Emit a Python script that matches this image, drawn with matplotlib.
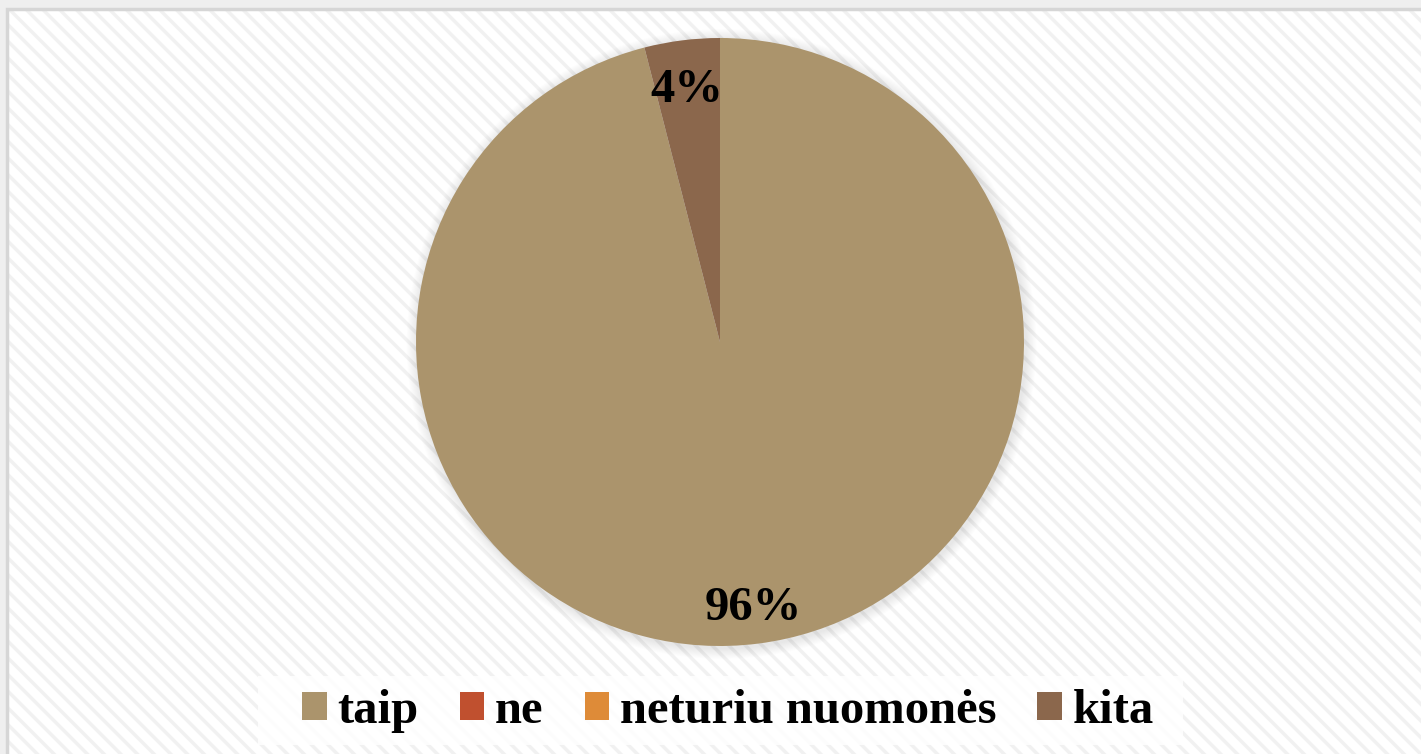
import matplotlib.pyplot as plt
import matplotlib.transforms as mtransforms
from matplotlib.patches import Rectangle, Circle

labels = ['taip', 'ne', 'neturiu nuomonės', 'kita']
values = [96, 0, 0, 4]
colors = ['#AB946C', '#C0502F', '#DE8B38', '#8B674C']

plt.rcParams['font.family'] = ['Liberation Serif', 'DejaVu Serif']
plt.rcParams['hatch.linewidth'] = 2.5

W, H = 1421, 754
fig = plt.figure(figsize=(W / 100, H / 100), dpi=100)
fig.patch.set_facecolor('#efefef')
ax = fig.add_axes([0, 0, 1, 1])
ax.set_xlim(0, W)
ax.set_ylim(0, H)
ax.set_aspect('equal')
ax.axis('off')

# striped background inside the frame
ax.add_patch(Rectangle((7, -10), W, H - 9 + 10, facecolor='white',
                       edgecolor='#f1f1f1', linewidth=0, hatch='\\\\', zorder=0))
ax.add_patch(Rectangle((7, -10), W, H - 9 + 10, facecolor='none',
                       edgecolor='#d6d6d6', linewidth=2.5, zorder=0.5))

cx, cy, r = 720, H - 342, 304

# soft shadow round the pie
for i in range(12):
    ax.add_patch(Circle((cx + 1.5, cy - 2), r + 1 + i * 0.9, facecolor='black',
                        edgecolor='none', alpha=0.009, zorder=1))

wedges, texts, autotexts = ax.pie(
    values, colors=colors, startangle=90, counterclock=False,
    center=(cx, cy), radius=r, pctdistance=0.86,
    autopct=lambda p: f'{p:.0f}%' if p > 0 else '',
    wedgeprops={'linewidth': 0, 'zorder': 2},
    textprops={'fontsize': 35, 'fontweight': 'bold', 'color': 'black'})
for t in autotexts:
    t.set_zorder(3)
    t.set_transform(mtransforms.offset_copy(t.get_transform(), fig=fig, x=0, y=-7, units='dots'))

ax.set_xlim(0, W)
ax.set_ylim(0, H)

# legend backdrop
ax.add_patch(Rectangle((258, H - 745), 925, 69, facecolor='white', edgecolor='none',
                       alpha=0.85, zorder=3))
leg = ax.legend(wedges, labels, loc='center', bbox_to_anchor=(728 / W, 1 - 711 / H),
                ncol=4, frameon=False, handlelength=0.5, handleheight=0.5,
                handletextpad=0.22, columnspacing=0.85, borderpad=0.2,
                prop={'size': 35, 'weight': 'bold'})
leg.set_zorder(4)

fig.savefig('out.png', dpi=100)
